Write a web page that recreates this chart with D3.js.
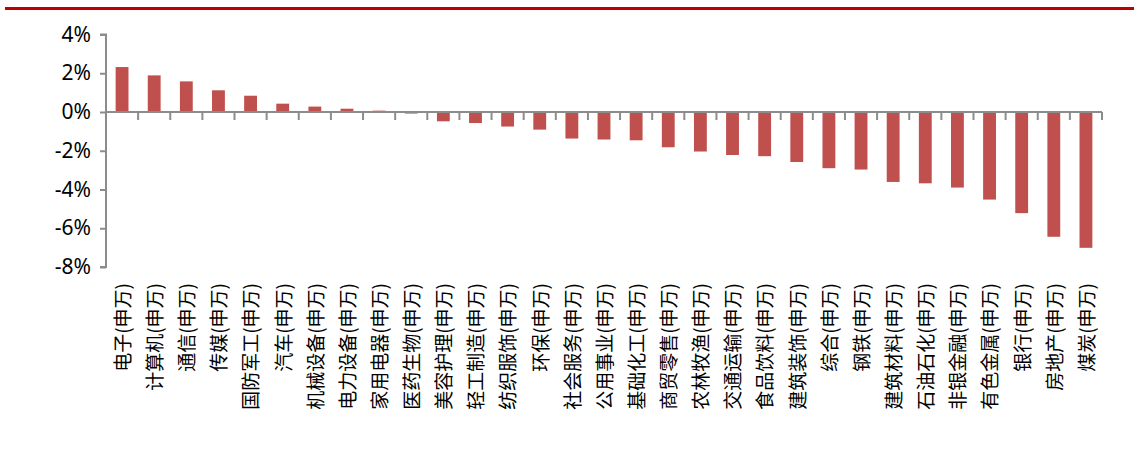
<!DOCTYPE html>
<html>
<head>
<meta charset="utf-8">
<script src="https://cdn.jsdelivr.net/npm/d3@7"></script>
<style>
  body { margin: 0; background: #fff; }
  svg { display: block; }
  .y.axis text { font-family: "Noto Sans", "DejaVu Sans", sans-serif; font-size: 21px; fill: #000; }
  .x-label { font-family: "Noto Sans CJK SC", sans-serif; font-size: 19px; fill: #000; }
</style>
</head>
<body>
<svg width="1134" height="467"></svg>
<script>
// industry names (申万), ordered as in the picture
const industries = ["电子", "计算机", "通信", "传媒", "国防军工", "汽车", "机械设备", "电力设备",
  "家用电器", "医药生物", "美容护理", "轻工制造", "纺织服饰", "环保", "社会服务", "公用事业",
  "基础化工", "商贸零售", "农林牧渔", "交通运输", "食品饮料", "建筑装饰", "综合", "钢铁",
  "建筑材料", "石油石化", "非银金融", "有色金属", "银行", "房地产", "煤炭"];

// weekly change, %
const changes = [2.32, 1.89, 1.58, 1.12, 0.84, 0.43, 0.28, 0.17, 0.07, -0.08,
  -0.48, -0.57, -0.75, -0.91, -1.37, -1.42, -1.46, -1.82, -2.04, -2.22,
  -2.28, -2.58, -2.90, -2.97, -3.61, -3.68, -3.90, -4.52, -5.22, -6.44, -7.01];

const yTicks = [4, 2, 0, -2, -4, -6, -8];

const svg = d3.select('svg');

// red rule at the top
svg.append('rect')
  .attr('x', 5).attr('y', 7)
  .attr('width', 1129).attr('height', 3)
  .attr('fill', '#c00000');

const plotLeft = 106, plotRight = 1102;
const plotTop = 34.5, plotBottom = 267;

const xScale = d3.scaleBand()
  .domain(d3.range(changes.length))
  .range([plotLeft, plotRight])
  .paddingInner(0.6)
  .paddingOuter(0.3);

const xBand = d3.scaleBand()
  .domain(d3.range(changes.length))
  .range([plotLeft, plotRight]);

const yScale = d3.scaleLinear()
  .domain([-8, 4])
  .range([plotBottom, plotTop]);

const axisColor = '#8c8c8c';

// y axis
const yAxis = svg.append('g')
  .attr('class', 'y axis')
  .attr('transform', `translate(${plotLeft},0)`)
  .call(d3.axisLeft(yScale)
    .tickValues(yTicks)
    .tickSize(6)
    .tickPadding(9)
    .tickFormat(d => d + '%'));
yAxis.selectAll('line, path').attr('stroke', axisColor).attr('stroke-width', 2);
yAxis.select('.domain').attr('d', `M-6,${yScale(-8)}H0V${yScale(4)}H-6`);

// bars
svg.append('g')
  .selectAll('rect')
  .data(changes)
  .enter()
  .append('rect')
  .attr('x', (d, i) => xScale(i))
  .attr('y', d => yScale(Math.max(0, d)))
  .attr('width', xScale.bandwidth())
  .attr('height', d => Math.abs(yScale(d) - yScale(0)))
  .attr('fill', '#c0504d');

// zero line with category ticks
const zero = yScale(0);
const xAxis = svg.append('g');
xAxis.append('line')
  .attr('x1', plotLeft).attr('x2', plotRight)
  .attr('y1', zero).attr('y2', zero)
  .attr('stroke', axisColor).attr('stroke-width', 2);
xAxis.selectAll('.tick')
  .data(d3.range(changes.length + 1))
  .enter()
  .append('line')
  .attr('x1', i => plotLeft + i * xBand.step())
  .attr('x2', i => plotLeft + i * xBand.step())
  .attr('y1', zero).attr('y2', zero + 8)
  .attr('stroke', axisColor).attr('stroke-width', 2);

// category labels, rotated
svg.append('g')
  .selectAll('text')
  .data(industries)
  .enter()
  .append('text')
  .attr('class', 'x-label')
  .attr('transform', (d, i) => `translate(${xBand(i) + xBand.bandwidth() / 2 + 1},283) rotate(-90)`)
  .attr('dy', '0.36em')
  .attr('text-anchor', 'end')
  .text(d => d + '(申万)');
</script>
</body>
</html>
